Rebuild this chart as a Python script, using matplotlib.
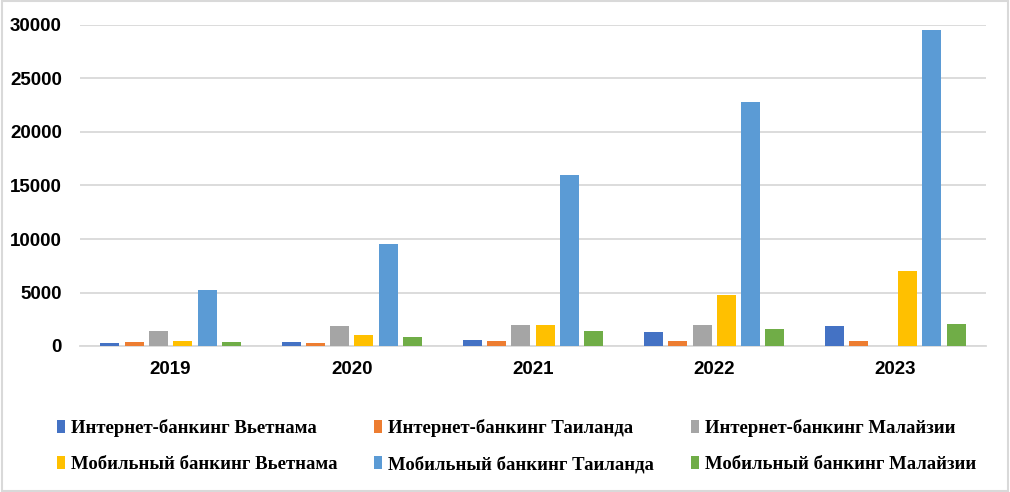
import numpy as np
import matplotlib
matplotlib.use('Agg')
import matplotlib.pyplot as plt
from matplotlib.patches import Rectangle

years = ['2019', '2020', '2021', '2022', '2023']

"""values per series, read off the picture"""
inet_vn = [300, 380, 570, 1330, 1900]
inet_th = [410, 280, 470, 470, 470]
inet_my = [1430, 1900, 1990, 2000, 0]
mob_vn = [470, 1040, 1990, 4740, 7000]
mob_th = [5210, 9500, 16000, 22800, 29500]
mob_my = [410, 850, 1420, 1610, 2080]

names = ['Интернет-банкинг Вьетнама', 'Интернет-банкинг Таиланда',
         'Интернет-банкинг Малайзии', 'Мобильный банкинг Вьетнама',
         'Мобильный банкинг Таиланда', 'Мобильный банкинг Малайзии']
series = [inet_vn, inet_th, inet_my, mob_vn, mob_th, mob_my]
colors = ['#4472C4', '#ED7D31', '#A5A5A5', '#FFC000', '#5B9BD5', '#70AD47']

fig = plt.figure(figsize=(10.1, 4.92), dpi=100)
ax = fig.add_axes([80 / 1010, 146 / 492, 906 / 1010, 321 / 492])

x = np.arange(len(years))
step = 0.134
width = 0.105
for i, (vals, name, c) in enumerate(zip(series, names, colors)):
    ax.bar(x + (i - 2.5) * step, vals, width, color=c, label=name, zorder=3)

ax.set_ylim(0, 30000)
ax.set_xlim(-0.5, 4.5)
ax.set_yticks(range(0, 30001, 5000))
ax.set_xticks(x)
ax.set_xticklabels(years)
ax.grid(axis='y', color='#D9D9D9', linewidth=1.3, zorder=0)
for s in ['top', 'right', 'left']:
    ax.spines[s].set_visible(False)
ax.spines['bottom'].set_color('#D9D9D9')
ax.spines['bottom'].set_linewidth(1.3)
ax.tick_params(axis='y', length=0, pad=13)
ax.tick_params(axis='x', length=0, pad=11)
for t in ax.get_xticklabels() + ax.get_yticklabels():
    t.set_fontweight('bold')
    t.set_fontfamily('Liberation Sans')
    t.set_fontsize(13.5)

# legend is filled row by row in the reference
h, l = ax.get_legend_handles_labels()
order = [0, 3, 1, 4, 2, 5]
leg = fig.legend([h[k] for k in order], [l[k] for k in order],
                 loc='lower left', bbox_to_anchor=(40 / 1010, 0.004), ncol=3,
                 frameon=False,
                 prop={'family': 'Liberation Serif', 'weight': 'bold', 'size': 13.5},
                 handlelength=0.45, handleheight=0.7, handletextpad=0.3,
                 columnspacing=1.95, labelspacing=1.0)

"""grey frame round the whole picture"""
fig.patches.append(Rectangle((0.002, 0.003), 0.996, 0.994, transform=fig.transFigure,
                             fill=False, edgecolor='#D9D9D9', linewidth=1.5))

fig.savefig('out.png', dpi=100)
